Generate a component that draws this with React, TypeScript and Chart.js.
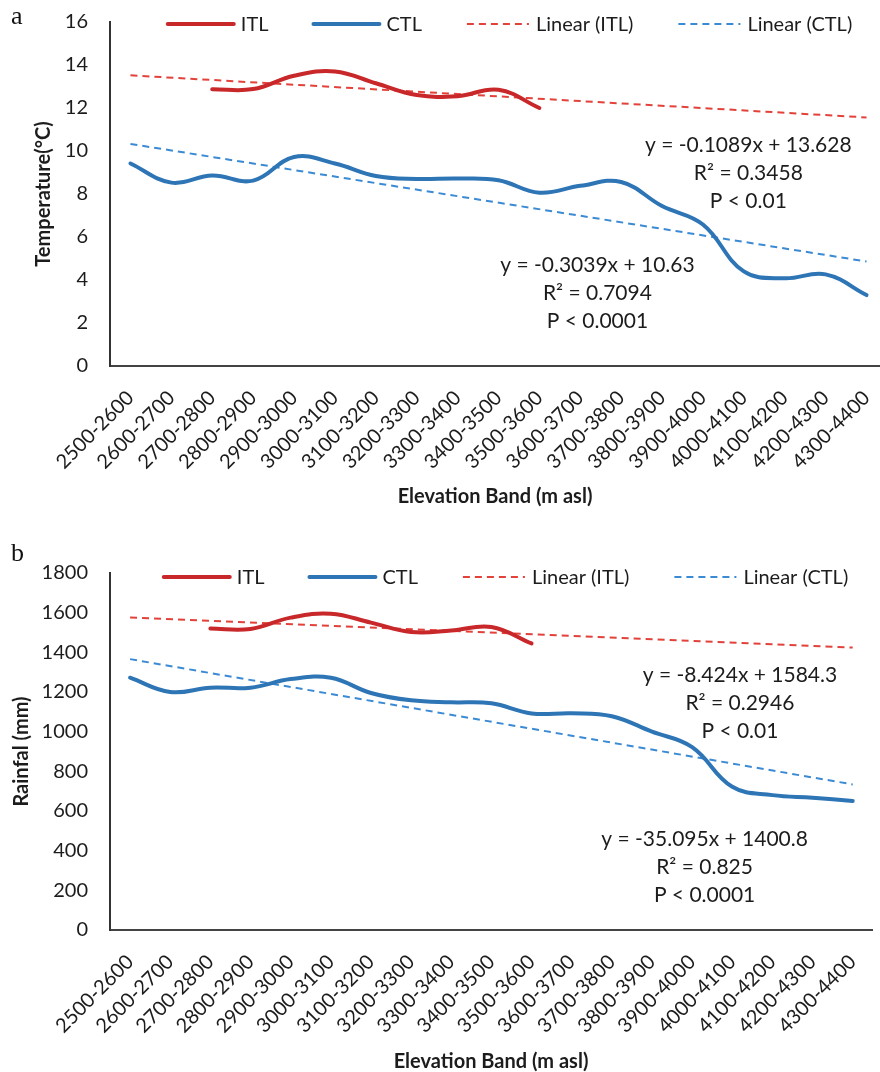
import React, { useEffect, useRef } from 'react';
import { Chart, registerables } from 'chart.js';

Chart.register(...registerables);

// ---------- data ----------
const ELEVATION_BANDS = [
  '2500-2600', '2600-2700', '2700-2800', '2800-2900', '2900-3000', '3000-3100',
  '3100-3200', '3200-3300', '3300-3400', '3400-3500', '3500-3600', '3600-3700',
  '3700-3800', '3800-3900', '3900-4000', '4000-4100', '4100-4200', '4200-4300', '4300-4400',
];

const TEMP_ITL: (number | null)[] = [null, null, 12.87, 12.88, 13.5, 13.7, 13.15, 12.6, 12.55, 12.85, 12.0,
  null, null, null, null, null, null, null, null];
const TEMP_CTL = [9.42, 8.53, 8.86, 8.62, 9.72, 9.42, 8.84, 8.7, 8.72, 8.64, 8.06, 8.38, 8.56, 7.44, 6.58, 4.4, 4.08, 4.26, 3.3];
const TEMP_ITL_TREND = [13.52, 11.56];
const TEMP_CTL_TREND = [10.33, 4.86];

const RAIN_ITL: (number | null)[] = [null, null, 1520, 1518, 1575, 1595, 1550, 1503, 1510, 1528, 1445,
  null, null, null, null, null, null, null, null];
const RAIN_CTL = [1272, 1200, 1222, 1222, 1265, 1272, 1195, 1158, 1148, 1143, 1092, 1093, 1078, 1000, 922, 722, 680, 667, 651];
const RAIN_ITL_TREND = [1575.9, 1424.2];
const RAIN_CTL_TREND = [1365.7, 734.0];

const TREND_X = [0, 18];

const TEMP_ITL_FIT = ['y = -0.1089x + 13.628', 'R\u00B2 = 0.3458', 'P < 0.01'];
const TEMP_CTL_FIT = ['y = -0.3039x + 10.63', 'R\u00B2 = 0.7094', 'P < 0.0001'];
const RAIN_ITL_FIT = ['y = -8.424x + 1584.3', 'R\u00B2 = 0.2946', 'P < 0.01'];
const RAIN_CTL_FIT = ['y = -35.095x + 1400.8', 'R\u00B2 = 0.825', 'P < 0.0001'];

const SERIES_NAMES = ['ITL', 'CTL', 'Linear (ITL)', 'Linear (CTL)'];

// ---------- styles ----------
const RED = '#c8282a';
const BLUE = '#2e75b6';
const RED_DASH = '#e2423a';
const BLUE_DASH = '#3b8ad4';
const TEXT = '#1c1c1c';
const FONT = 'Lato';

// custom in-plot legend (Excel-style, overlapping the plot top)
const inlineLegend = {
  id: 'inlineLegend',
  afterDraw(chart: any, _args: any, opts: any) {
    const { ctx, chartArea } = chart;
    ctx.save();
    ctx.font = `20px ${FONT}`;
    ctx.textBaseline = 'middle';
    ctx.textAlign = 'left';
    const items = chart.data.datasets.map((ds: any) => {
      const dashed = Array.isArray(ds.borderDash) && ds.borderDash.length > 0;
      const len = dashed ? 62 : 66;
      const tw = ctx.measureText(ds.label).width;
      return { ds, dashed, len, tw, w: len + 7 + tw };
    });
    const gap = 45;
    const total = items.reduce((s: number, it: any) => s + it.w, 0) + gap * (items.length - 1);
    let x = (chartArea.left + chartArea.right) / 2 + opts.shift - total / 2;
    const y = opts.y;
    for (const it of items) {
      ctx.beginPath();
      ctx.strokeStyle = it.ds.borderColor;
      ctx.lineWidth = it.ds.borderWidth;
      ctx.lineCap = it.dashed ? 'butt' : 'round';
      ctx.setLineDash(it.dashed ? it.ds.borderDash : []);
      ctx.moveTo(x, y);
      ctx.lineTo(x + it.len, y);
      ctx.stroke();
      ctx.setLineDash([]);
      ctx.fillStyle = TEXT;
      ctx.fillText(it.ds.label, x + it.len + 7, y + 1);
      x += it.w + gap;
    }
    ctx.restore();
  },
};

// regression equation notes, anchored in data coordinates
const fitNotes = {
  id: 'fitNotes',
  afterDraw(chart: any, _args: any, opts: any) {
    const { ctx } = chart;
    const xs = chart.scales.x;
    const ys = chart.scales.y;
    ctx.save();
    ctx.font = `21px ${FONT}`;
    ctx.fillStyle = TEXT;
    ctx.textAlign = 'center';
    ctx.textBaseline = 'middle';
    for (const note of opts.notes) {
      const px = xs.getPixelForValue(note.x);
      const py = ys.getPixelForValue(note.y);
      note.lines.forEach((line: string, i: number) => {
        ctx.fillText(line, px, py + i * 28);
      });
    }
    ctx.restore();
  },
};

type Cfg = {
  itl: (number | null)[];
  ctl: number[];
  itlTrend: number[];
  ctlTrend: number[];
  yMax: number;
  yStep: number;
  yTitle: string;
  yTitlePad: number;
  xMax: number;
  padding: { top: number; right: number; left: number; bottom: number };
  xHeight: number;
  legendY: number;
  notes: { x: number; y: number; lines: string[] }[];
};

function buildConfig(c: Cfg): any {
  const pts = (arr: (number | null)[]) =>
    arr.map((v, i) => (v === null ? null : { x: i, y: v })).filter((p) => p !== null);
  const trend = (arr: number[]) => arr.map((v, i) => ({ x: TREND_X[i], y: v }));
  return {
    type: 'line',
    data: {
      datasets: [
        { label: SERIES_NAMES[0], data: pts(c.itl), borderColor: RED, borderWidth: 4, tension: 0.4, pointRadius: 0, fill: false, borderCapStyle: 'round' },
        { label: SERIES_NAMES[1], data: pts(c.ctl), borderColor: BLUE, borderWidth: 4, tension: 0.4, pointRadius: 0, fill: false, borderCapStyle: 'round' },
        { label: SERIES_NAMES[2], data: trend(c.itlTrend), borderColor: RED_DASH, borderWidth: 2, borderDash: [7, 5], tension: 0, pointRadius: 0, fill: false },
        { label: SERIES_NAMES[3], data: trend(c.ctlTrend), borderColor: BLUE_DASH, borderWidth: 2, borderDash: [7, 5], tension: 0, pointRadius: 0, fill: false },
      ],
    },
    options: {
      responsive: false,
      animation: false,
      devicePixelRatio: 1,
      layout: { padding: c.padding },
      plugins: {
        legend: { display: false },
        tooltip: { enabled: false },
        inlineLegend: { y: c.legendY, shift: 15 },
        fitNotes: { notes: c.notes },
      },
      scales: {
        x: {
          type: 'linear',
          min: -0.5,
          max: c.xMax,
          grid: { display: false, drawTicks: false },
          border: { display: true, color: '#444', width: 2 },
          ticks: {
            stepSize: 1,
            includeBounds: false,
            autoSkip: false,
            minRotation: 45,
            maxRotation: 45,
            padding: 20,
            color: TEXT,
            font: { family: FONT, size: 20 },
            callback: (v: any) => {
              const i = Math.round(Number(v));
              return Math.abs(Number(v) - i) < 1e-6 && ELEVATION_BANDS[i] ? ELEVATION_BANDS[i] : '';
            },
          },
          title: {
            display: true,
            text: 'Elevation Band (m asl)',
            color: TEXT,
            font: { family: FONT, size: 20, weight: 'bold', lineHeight: 1 },
            padding: { top: 0, bottom: 0 },
          },
          afterFit: (scale: any) => {
            scale.height = c.xHeight;
            scale.paddingLeft = 0;
            scale.paddingRight = 0;
          },
        },
        y: {
          type: 'linear',
          min: 0,
          max: c.yMax,
          grid: { display: false, drawTicks: false },
          border: { display: true, color: '#333', width: 2 },
          ticks: {
            stepSize: c.yStep,
            padding: 22,
            color: TEXT,
            font: { family: FONT, size: 20 },
            callback: (v: any) => String(v),
          },
          title: {
            display: true,
            text: c.yTitle,
            color: TEXT,
            font: { family: FONT, size: 20, weight: 'bold', lineHeight: 1 },
            padding: { top: c.yTitlePad, bottom: 0 },
          },
          afterFit: (scale: any) => {
            scale.width = 110;
            scale.paddingTop = 0;
            scale.paddingBottom = 0;
          },
        },
      },
    },
    plugins: [inlineLegend, fitNotes],
  };
}

function ChartCanvas({ cfg, width, height, top }: { cfg: Cfg; width: number; height: number; top: number }) {
  const ref = useRef<HTMLCanvasElement | null>(null);
  useEffect(() => {
    if (!ref.current) return;
    const chart = new Chart(ref.current, buildConfig(cfg));
    return () => chart.destroy();
  }, []);
  return (
    <canvas
      ref={ref}
      width={width}
      height={height}
      style={{ position: 'absolute', left: 0, top, width, height, display: 'block' }}
    />
  );
}

const TEMP_CFG: Cfg = {
  itl: TEMP_ITL,
  ctl: TEMP_CTL,
  itlTrend: TEMP_ITL_TREND,
  ctlTrend: TEMP_CTL_TREND,
  yMax: 16,
  yStep: 2,
  yTitle: 'Temperature(\u00B0C)',
  yTitlePad: 34,
  xMax: 18.33,
  padding: { top: 22, right: 0, left: 0, bottom: 0 },
  xHeight: 141,
  legendY: 24,
  notes: [
    { x: 15.11, y: 10.28, lines: TEMP_ITL_FIT },
    { x: 11.42, y: 4.7, lines: TEMP_CTL_FIT },
  ],
};

const RAIN_CFG: Cfg = {
  itl: RAIN_ITL,
  ctl: RAIN_CTL,
  itlTrend: RAIN_ITL_TREND,
  ctlTrend: RAIN_CTL_TREND,
  yMax: 1800,
  yStep: 200,
  yTitle: 'Rainfal (mm)',
  yTitlePad: 12,
  xMax: 18.48,
  padding: { top: 43, right: 8, left: 0, bottom: 0 },
  xHeight: 142,
  legendY: 47,
  notes: [
    { x: 15.19, y: 1286, lines: RAIN_ITL_FIT },
    { x: 14.31, y: 459, lines: RAIN_CTL_FIT },
  ],
};

export default function App() {
  const letter: React.CSSProperties = {
    position: 'absolute',
    left: 11,
    fontFamily: '"Liberation Serif", serif',
    fontSize: 26,
    lineHeight: '26px',
    color: '#111',
  };
  return (
    <div style={{ position: 'absolute', left: 0, top: 0, width: 880, height: 1072, background: '#fff', overflow: 'hidden' }}>
      <ChartCanvas cfg={TEMP_CFG} width={880} height={507} top={0} />
      <ChartCanvas cfg={RAIN_CFG} width={880} height={542} top={530} />
      <div style={{ ...letter, top: 3 }}>a</div>
      <div style={{ ...letter, top: 540 }}>b</div>
    </div>
  );
}
